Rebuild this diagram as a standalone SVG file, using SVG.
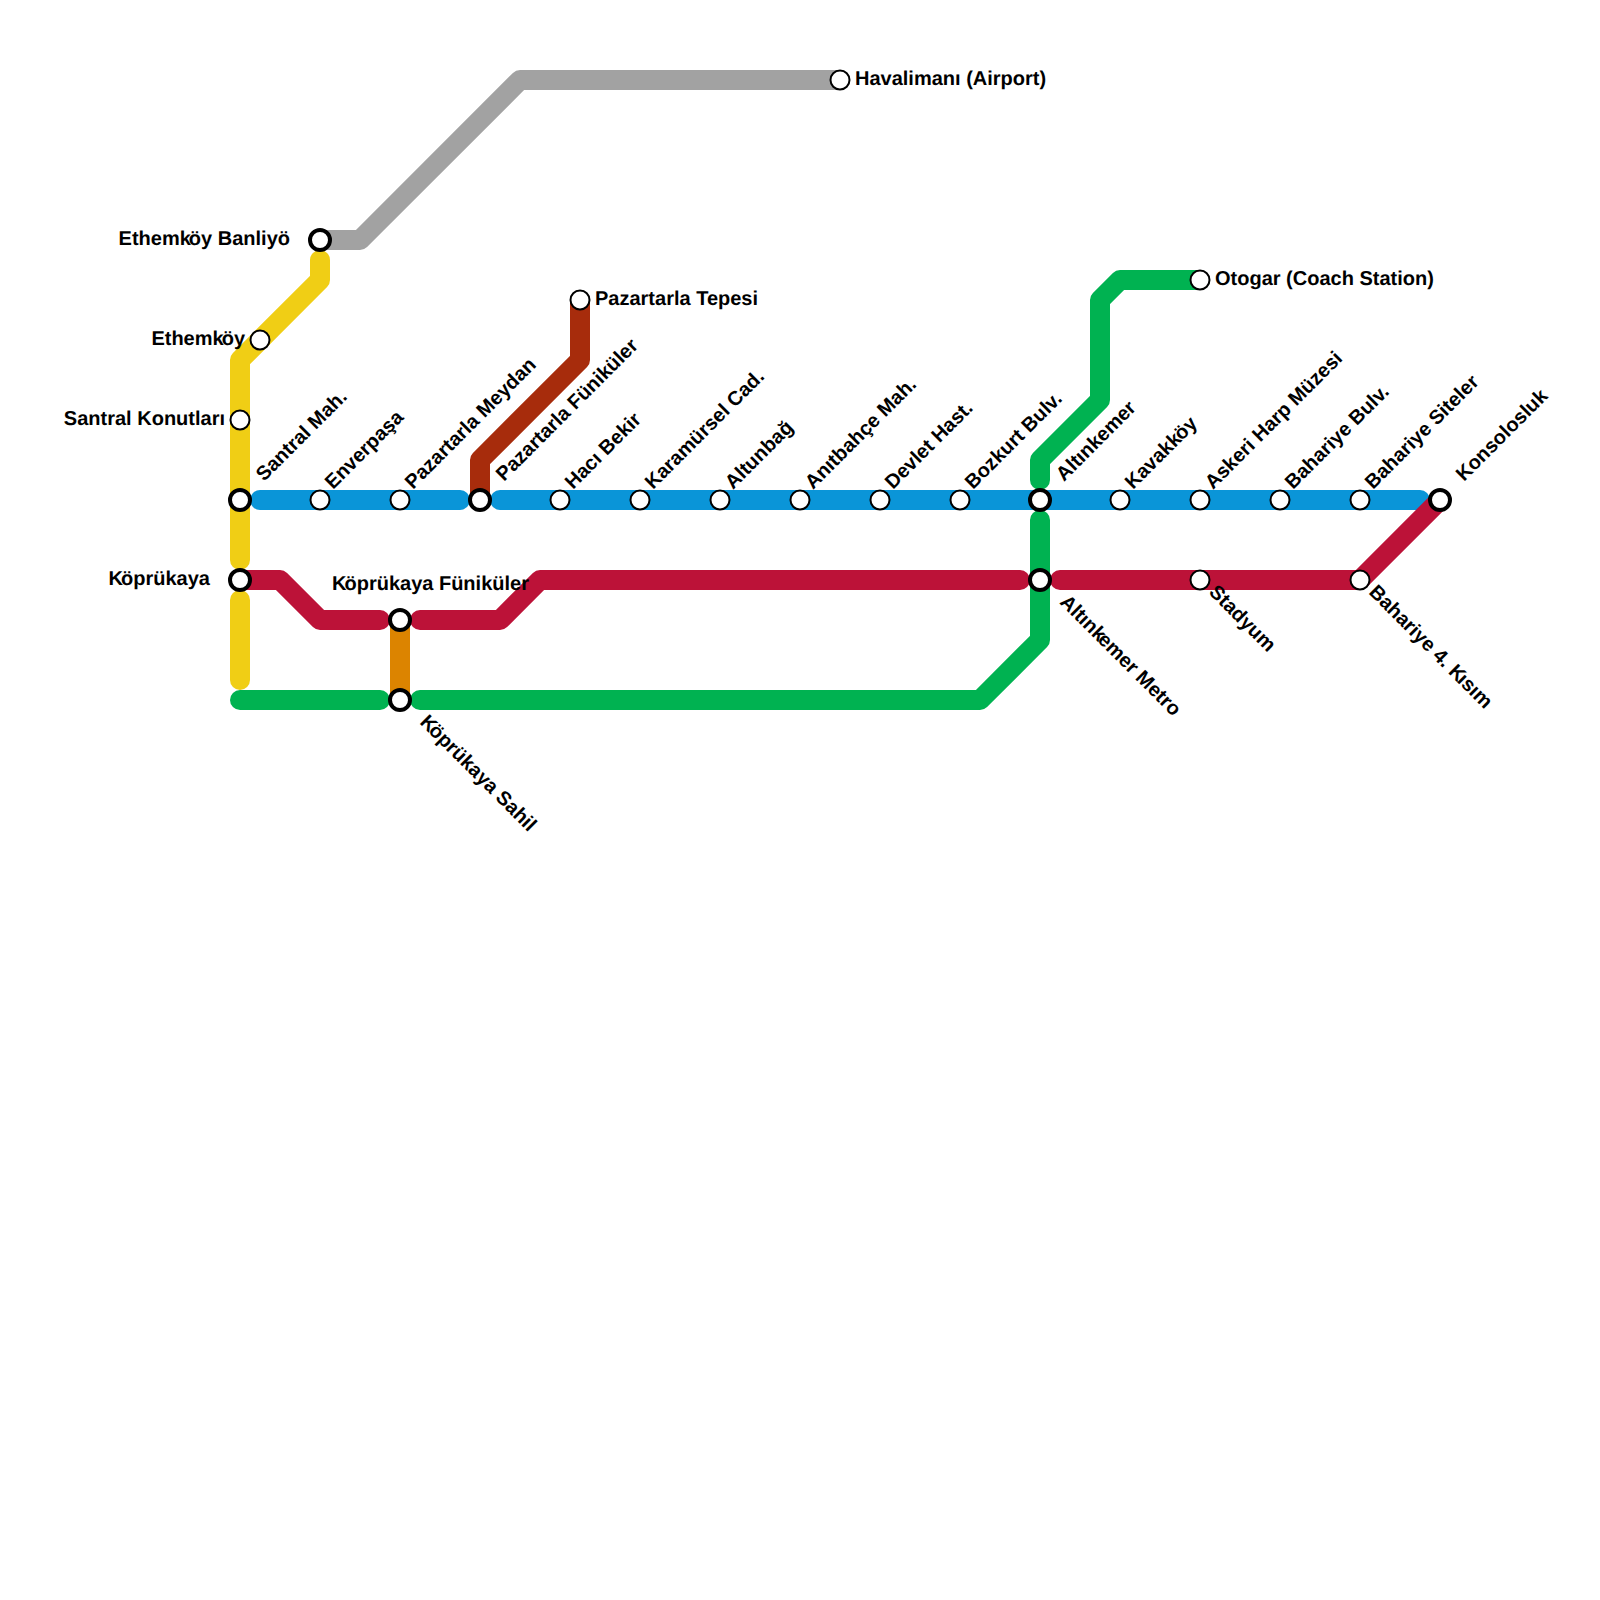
<svg xmlns="http://www.w3.org/2000/svg" width="1600" height="1600" viewBox="0 0 1600 1600">
<style>
.l{fill:none;stroke-width:20;stroke-linecap:round;stroke-linejoin:round}
.s{fill:#fff;stroke:#000;stroke-width:2}
.i{fill:#fff;stroke:#000;stroke-width:4}
text{font-family:"Liberation Sans",Arial,sans-serif;font-weight:700;font-size:20px;fill:#000;text-rendering:geometricPrecision}
.e{text-anchor:end}
</style>
<rect width="1600" height="1600" fill="#fff"/>
<g id="connectors">
<path class="l" stroke="#a2a2a2" d="M320 240H360L520 80H840"/>
<path class="l" stroke="#f0ce15" d="M320 260V280L240 360V560"/>
<path class="l" stroke="#f0ce15" d="M240 600V680"/>
<path class="l" stroke="#a72c0c" d="M580 300V360L480 460V500"/>
<path class="l" stroke="#dc8400" style="stroke-linecap:butt" d="M400 620V700"/>
<path class="l" stroke="#00b251" d="M240 700H380"/>
<path class="l" stroke="#00b251" d="M420 700H980L1040 640V520"/>
<path class="l" stroke="#00b251" d="M1040 480V460L1100 400V300L1120 280H1200"/>
<path class="l" stroke="#0a95d8" d="M260 500H460"/>
<path class="l" stroke="#0a95d8" d="M500 500H1420"/>
<path class="l" stroke="#bc1238" d="M240 580H280L320 620H380"/>
<path class="l" stroke="#bc1238" d="M420 620H500L540 580H1020"/>
<path class="l" stroke="#bc1238" d="M1060 580H1360L1440 500"/>
</g>
<g id="n-havalimani"><circle class="s" cx="840" cy="80" r="9.5"/><text x="855" y="85">Havalimanı (Airport)</text></g>
<g id="n-ethemkoy-banliyo"><circle class="i" cx="320" cy="240" r="10"/><text class="e" x="290" y="245">Ethemk<tspan dx="-2">ö</tspan>y Banliyö</text></g>
<g id="n-ethemkoy"><circle class="s" cx="260" cy="340" r="9.5"/><text class="e" x="245" y="345">Ethemk<tspan dx="-2">ö</tspan>y</text></g>
<g id="n-santral-konutlari"><circle class="s" cx="240" cy="420" r="9.5"/><text class="e" x="225" y="425">Santral Konutları</text></g>
<g id="n-santral-mah"><circle class="i" cx="240" cy="500" r="10"/><text transform="translate(264 482) rotate(-45)">Santral Mah.</text></g>
<g id="n-enverpasa"><circle class="s" cx="320" cy="500" r="9.5"/><text transform="translate(333 490) rotate(-45)">Enverpaşa</text></g>
<g id="n-pazartarla-meydan"><circle class="s" cx="400" cy="500" r="9.5"/><text transform="translate(413 490) rotate(-45)">Pazartarla Meydan</text></g>
<g id="n-pazartarla-funikuler"><circle class="i" cx="480" cy="500" r="10"/><text transform="translate(504 482) rotate(-45)">Pazartarla Füniküler</text></g>
<g id="n-pazartarla-tepesi"><circle class="s" cx="580" cy="300" r="9.5"/><text x="595" y="305">Pazartarla Tepesi</text></g>
<g id="n-haci-bekir"><circle class="s" cx="560" cy="500" r="9.5"/><text transform="translate(573 490) rotate(-45)">Hacı Bekir</text></g>
<g id="n-karamursel"><circle class="s" cx="640" cy="500" r="9.5"/><text transform="translate(653 490) rotate(-45)">Karamürsel Cad.</text></g>
<g id="n-altunbag"><circle class="s" cx="720" cy="500" r="9.5"/><text transform="translate(733 490) rotate(-45)">Altunbağ</text></g>
<g id="n-anitbahce"><circle class="s" cx="800" cy="500" r="9.5"/><text transform="translate(813 490) rotate(-45)">Anıtbahçe Mah.</text></g>
<g id="n-devlet"><circle class="s" cx="880" cy="500" r="9.5"/><text transform="translate(893 490) rotate(-45)">Devlet Hast.</text></g>
<g id="n-bozkurt"><circle class="s" cx="960" cy="500" r="9.5"/><text transform="translate(973 490) rotate(-45)">Bozkurt Bulv.</text></g>
<g id="n-altinkemer"><circle class="i" cx="1040" cy="500" r="10"/><text transform="translate(1064 482) rotate(-45)">Altınkemer</text></g>
<g id="n-kavakkoy"><circle class="s" cx="1120" cy="500" r="9.5"/><text transform="translate(1133 490) rotate(-45)">Kavakk<tspan dx="-1">ö</tspan>y</text></g>
<g id="n-askeri"><circle class="s" cx="1200" cy="500" r="9.5"/><text transform="translate(1213 490) rotate(-45)">Askeri Harp Müzesi</text></g>
<g id="n-bahariye-bulv"><circle class="s" cx="1280" cy="500" r="9.5"/><text transform="translate(1293 490) rotate(-45)">Bahariye Bulv.</text></g>
<g id="n-bahariye-siteler"><circle class="s" cx="1360" cy="500" r="9.5"/><text transform="translate(1373 490) rotate(-45)">Bahariye Siteler</text></g>
<g id="n-konsolosluk"><circle class="i" cx="1440" cy="500" r="10"/><text transform="translate(1464 482) rotate(-45)">Konsolosluk</text></g>
<g id="n-otogar"><circle class="s" cx="1200" cy="280" r="9.5"/><text x="1215" y="285">Otogar (Coach Station)</text></g>
<g id="n-koprukaya"><circle class="i" cx="240" cy="580" r="10"/><text class="e" x="210" y="585">K<tspan dx="-2">ö</tspan>prükaya</text></g>
<g id="n-koprukaya-funikuler"><circle class="i" cx="400" cy="620" r="10"/><text x="332" y="590">K<tspan dx="-2">ö</tspan>prükaya Füniküler</text></g>
<g id="n-koprukaya-sahil"><circle class="i" cx="400" cy="700" r="10"/><text transform="translate(419 723) rotate(45)">K<tspan dx="-2">ö</tspan>prükaya Sahil</text></g>
<g id="n-altinkemer-metro"><circle class="i" cx="1040" cy="580" r="10"/><text transform="translate(1059 603) rotate(45)">Altınk<tspan dx="-2">e</tspan>mer Metro</text></g>
<g id="n-stadyum"><circle class="s" cx="1200" cy="580" r="9.5"/><text transform="translate(1208 593) rotate(45)">Stadyum</text></g>
<g id="n-bahariye-4"><circle class="s" cx="1360" cy="580" r="9.5"/><text transform="translate(1368 593) rotate(45)">Bahariye 4. K<tspan dx="-2">ı</tspan>sım</text></g>
</svg>
